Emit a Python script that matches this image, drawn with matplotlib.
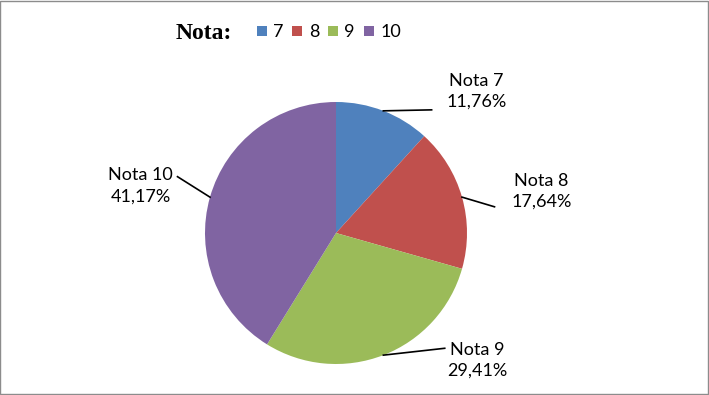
import numpy as np
import matplotlib
matplotlib.use("Agg")
import matplotlib.pyplot as plt
from matplotlib.patches import Rectangle

notas = ["7", "8", "9", "10"]
valores = [11.76, 17.64, 29.41, 41.17]
rotulos = ["11,76%", "17,64%", "29,41%", "41,17%"]
cores = ["#4F81BD", "#C0504D", "#9BBB59", "#8064A2"]

# label layout (axes data units, radius = 1): text center, leader end
pos_texto = [(1.07, 1.08), (1.57, 0.32), (1.08, -0.97), (-1.49, 0.36)]
pos_linha = [(0.73, 0.94), (1.21, 0.20), (0.83, -0.88), (-1.21, 0.43)]

plt.rcParams["font.family"] = ["Lato", "DejaVu Sans"]

fig = plt.figure(figsize=(7.09, 3.95), dpi=100)
fig.patch.set_facecolor("white")
fig.add_artist(Rectangle((0.0007, 0.0013), 0.9979, 0.996, transform=fig.transFigure,
                         fill=False, edgecolor="#8c8c8c", linewidth=1.0))

# pie centered at (336, 233) px, radius ~131 px
r = 131
cx, cy = 336, 233
ax = fig.add_axes([(cx - r) / 709, 1 - (cy + r) / 395, 2 * r / 709, 2 * r / 395])
wedges, _ = ax.pie(valores, colors=cores, startangle=90, counterclock=False,
                   wedgeprops=dict(linewidth=0))
ax.set_xlim(-1, 1)
ax.set_ylim(-1, 1)
ax.set_aspect("auto")

for w, nota, rot, pt, pl in zip(wedges, notas, rotulos, pos_texto, pos_linha):
    ang = np.deg2rad((w.theta1 + w.theta2) / 2)
    x0, y0 = np.cos(ang), np.sin(ang)
    ax.plot([x0, pl[0]], [y0, pl[1]], color="black", lw=1.2, clip_on=False)
    ax.text(pt[0], pt[1], f"Nota {nota}\n{rot}", ha="center", va="center", fontsize=13,
            linespacing=1.38, clip_on=False)

fig.text(0.247, 0.915, "Nota:", fontfamily="Liberation Serif", fontweight="bold",
         fontsize=17, va="center", ha="left")
handles = [Rectangle((0, 0), 1, 1, facecolor=c, edgecolor="none") for c in cores]
fig.legend(handles, notas, loc="center left", bbox_to_anchor=(0.362, 0.918), ncol=4,
           frameon=False, fontsize=13, handlelength=0.55, handleheight=0.55,
           handletextpad=0.35, columnspacing=0.5, borderpad=0, borderaxespad=0)

fig.savefig("out.png", dpi=100, facecolor="white")
